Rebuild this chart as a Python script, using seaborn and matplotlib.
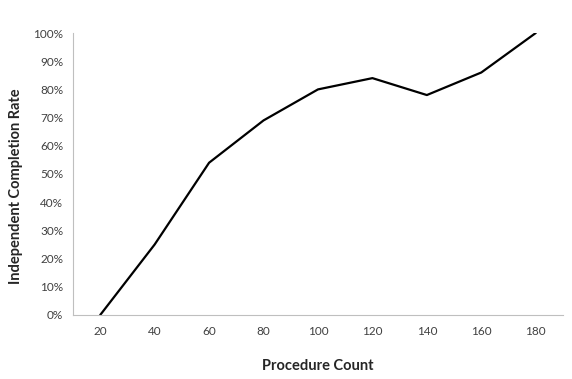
import seaborn as sns
import matplotlib.pyplot as plt
from matplotlib.ticker import PercentFormatter, FixedLocator

# Data
procedure_count = ['20', '40', '60', '80', '100', '120', '140', '160', '180']
completion_rate = [0.0, 0.25, 0.54, 0.69, 0.80, 0.84, 0.78, 0.86, 1.00]

sns.set_style("white")
plt.rcParams['font.family'] = ['Lato', 'DejaVu Sans']

fig = plt.figure(figsize=(5.72, 3.79), dpi=100)
ax = fig.add_axes([0.1276, 0.1689, 0.8566, 0.744])

sns.lineplot(x=procedure_count, y=completion_rate, color='black', linewidth=1.6, ax=ax)

ax.set_xlim(-0.5, len(procedure_count) - 0.5)
ax.set_ylim(0, 1)
ax.set_yticks([i / 10 for i in range(11)])
ax.yaxis.set_major_formatter(PercentFormatter(1.0, decimals=0))

# category ticks between labels, like Excel
ax.xaxis.set_minor_locator(FixedLocator([i - 0.5 for i in range(len(procedure_count) + 1)]))
ax.tick_params(axis='x', which='major', length=0, pad=8, labelsize=8.5, labelcolor='#404040')
ax.tick_params(axis='x', which='minor', length=4, width=0.8, color='#bfbfbf', direction='out')
ax.tick_params(axis='y', which='major', length=4, width=0.8, color='#bfbfbf', direction='out',
               labelsize=8.5, labelcolor='#404040', pad=3)

for side in ['top', 'right']:
    ax.spines[side].set_visible(False)
for side in ['left', 'bottom']:
    ax.spines[side].set_color('#bfbfbf')
    ax.spines[side].set_linewidth(0.8)

ax.set_xlabel('Procedure Count', fontsize=10.5, fontweight='bold', labelpad=16)
ax.set_ylabel('Independent Completion Rate', fontsize=10.5, fontweight='bold')
ax.yaxis.set_label_coords(-0.102, 0.457)

fig.savefig('out.png', dpi=100)
